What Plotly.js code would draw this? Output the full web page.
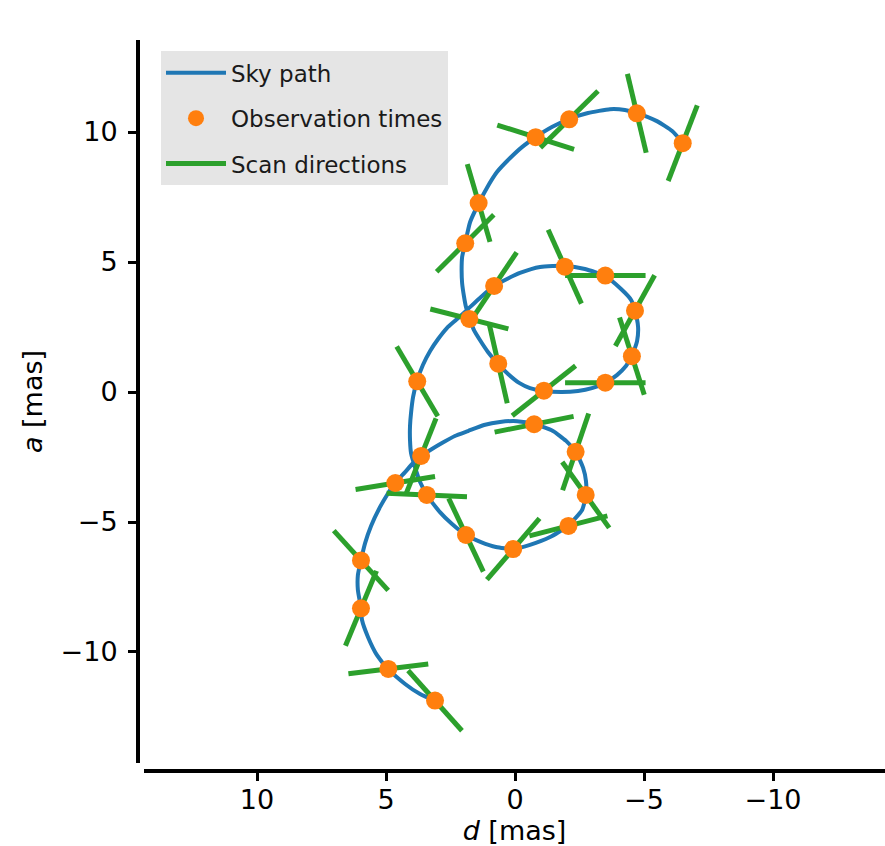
<!DOCTYPE html>
<html>
<head>
<meta charset="utf-8">
<script src="https://cdn.plot.ly/plotly-3.0.1.min.js"></script>
<style>html,body{margin:0;padding:0;background:#fff;}#chart{width:885px;height:846px;}</style>
</head>
<body>
<div id="chart"></div>
<script>
// Sky path (d, a) in mas
const skyD = [3.10,3.68,4.26,4.92,5.35,5.70,5.93,5.97,6.09,6.09,5.97,5.81,5.58,5.23,4.96,4.65,4.26,3.95,3.64,3.22,2.83,2.33,1.82,1.20,0.58,-0.08,-0.74,-1.47,-1.98,-2.36,-2.64,-2.75,-2.75,-2.60,-2.05,-1.36,-0.58,0.08,0.74,1.32,1.90,2.44,2.91,3.41,3.68,3.88,4.03,4.07,4.07,4.03,3.95,3.80,3.57,3.29,2.98,2.64,2.29,1.90,1.36,0.81,0.31,-0.19,-0.97,-1.94,-2.71,-3.49,-4.11,-4.50,-4.65,-4.77,-4.73,-4.53,-4.30,-3.95,-3.49,-2.98,-2.44,-1.82,-1.12,-0.58,-0.16,0.27,0.66,1.05,1.36,1.59,1.74,1.90,1.98,2.05,2.07,2.05,1.94,1.74,1.40,1.09,0.70,0.19,-0.27,-0.81,-1.43,-2.09,-2.83,-3.68,-4.26,-4.73,-5.50,-6.09,-6.51];
const skyA = [-11.88,-11.62,-11.23,-10.65,-10.12,-9.42,-8.77,-8.31,-7.62,-7.04,-6.46,-5.81,-5.15,-4.42,-3.96,-3.50,-3.08,-2.73,-2.46,-2.19,-1.96,-1.69,-1.50,-1.27,-1.15,-1.12,-1.23,-1.50,-1.88,-2.31,-2.92,-3.42,-3.96,-4.54,-5.15,-5.58,-5.88,-6.04,-5.96,-5.77,-5.50,-5.08,-4.62,-3.96,-3.46,-2.88,-2.35,-1.85,-1.31,-0.81,-0.19,0.42,1.04,1.58,2.04,2.46,2.77,3.12,3.62,4.08,4.35,4.58,4.81,4.85,4.73,4.46,3.96,3.54,3.12,2.50,1.96,1.38,1.00,0.65,0.35,0.15,0.04,0.00,0.04,0.15,0.35,0.69,1.08,1.54,2.00,2.38,2.77,3.27,3.69,4.19,4.69,5.19,5.69,6.54,7.27,7.85,8.46,9.00,9.42,9.81,10.19,10.50,10.73,10.88,10.85,10.73,10.42,10.04,9.58];

// Observation times (d, a) in mas and scan angle (deg, from +d toward +a)
const obsD = [3.10,4.91,5.97,5.97,4.64,3.64,-0.74,-2.35,-2.74,-2.07,0.07,1.90,3.42,3.79,0.81,-1.93,-3.50,-4.65,-4.53,-3.50,-1.12,0.65,1.77,1.93,1.41,-0.80,-2.10,-4.72,-6.50];
const obsA = [-11.87,-10.65,-8.32,-6.48,-3.50,-2.46,-1.24,-2.30,-3.96,-5.15,-6.04,-5.50,-3.96,0.41,4.08,4.82,4.48,3.13,1.38,0.36,0.05,1.09,2.81,5.72,7.27,9.80,10.49,10.72,9.57];
const scanAngle = [48,173,112.7,47.5,170.8,111.8,168.8,108.9,54.3,165.7,130.8,64.5,2.5,59.3,124.1,65.6,0,119.2,72.1,0,141.9,77.1,14.2,135.3,73.6,17.4,135.7,76.5,111.2];

const xTicks = [10,5,0,-5,-10];
const yTicks = [10,5,0,-5,-10];

const HALF = 1.56; // half length of scan-direction bars, mas
const scanX = [], scanY = [];
for (let i = 0; i < obsD.length; i++) {
  const t = scanAngle[i] * Math.PI / 180;
  scanX.push(obsD[i] - HALF*Math.cos(t), obsD[i] + HALF*Math.cos(t), null);
  scanY.push(obsA[i] - HALF*Math.sin(t), obsA[i] + HALF*Math.sin(t), null);
}

const FONT = 'DejaVu Sans, Liberation Sans, sans-serif';

const traces = [
  {x: skyD, y: skyA, mode: 'lines', name: 'Sky path', legendrank: 1, legendgroup: 'g1',
   line: {color: '#1f77b4', width: 4, shape: 'spline', smoothing: 0.5}, hoverinfo: 'skip'},
  {x: scanX, y: scanY, mode: 'lines', name: 'Scan directions', legendrank: 3, legendgroup: 'g3',
   line: {color: '#2ca02c', width: 5}, connectgaps: false, hoverinfo: 'skip'},
  {x: obsD, y: obsA, mode: 'markers', name: 'Observation times', legendrank: 2, legendgroup: 'g2',
   marker: {color: '#ff7f0e', size: 18}, hoverinfo: 'skip'}
];

const axisCommon = {
  showgrid: false, zeroline: false, showline: true, linecolor: '#000', linewidth: 4,
  ticks: 'outside', ticklen: 8, tickwidth: 3, tickcolor: '#000',
  tickfont: {family: FONT, size: 27, color: '#000'},
  anchor: 'free', position: 0
};

const layout = {
  width: 885, height: 846,
  margin: {l: 138, r: 0, t: 40, b: 75, pad: 0},
  paper_bgcolor: '#fff', plot_bgcolor: 'rgba(0,0,0,0)',
  font: {family: FONT, color: '#000'},
  showlegend: true,
  xaxis: Object.assign({}, axisCommon, {
    domain: [0.00803, 1], range: [14.38, -14.34], tickvals: xTicks, ticklabelstandoff: -4,
    title: {text: '<i>d</i> [mas]', font: {family: FONT, size: 27, color: '#000'}, standoff: 30}
  }),
  yaxis: Object.assign({}, axisCommon, {
    domain: [0.01094, 1], range: [-14.27, 13.54], tickvals: yTicks, ticklabelstandoff: 5,
    title: {text: '<i>a</i> [mas]', font: {family: FONT, size: 27, color: '#000'}, standoff: 9}
  }),
  legend: {
    x: 0.0308, y: 0.9845, xanchor: 'left', yanchor: 'top',
    bgcolor: '#e5e5e5', borderwidth: 0, tracegroupgap: 12.5, itemwidth: 60,
    font: {family: FONT, size: 23, color: '#1a1a1a'}
  }
};

Plotly.newPlot('chart', traces, layout, {displayModeBar: false, staticPlot: true});
</script>
</body>
</html>
